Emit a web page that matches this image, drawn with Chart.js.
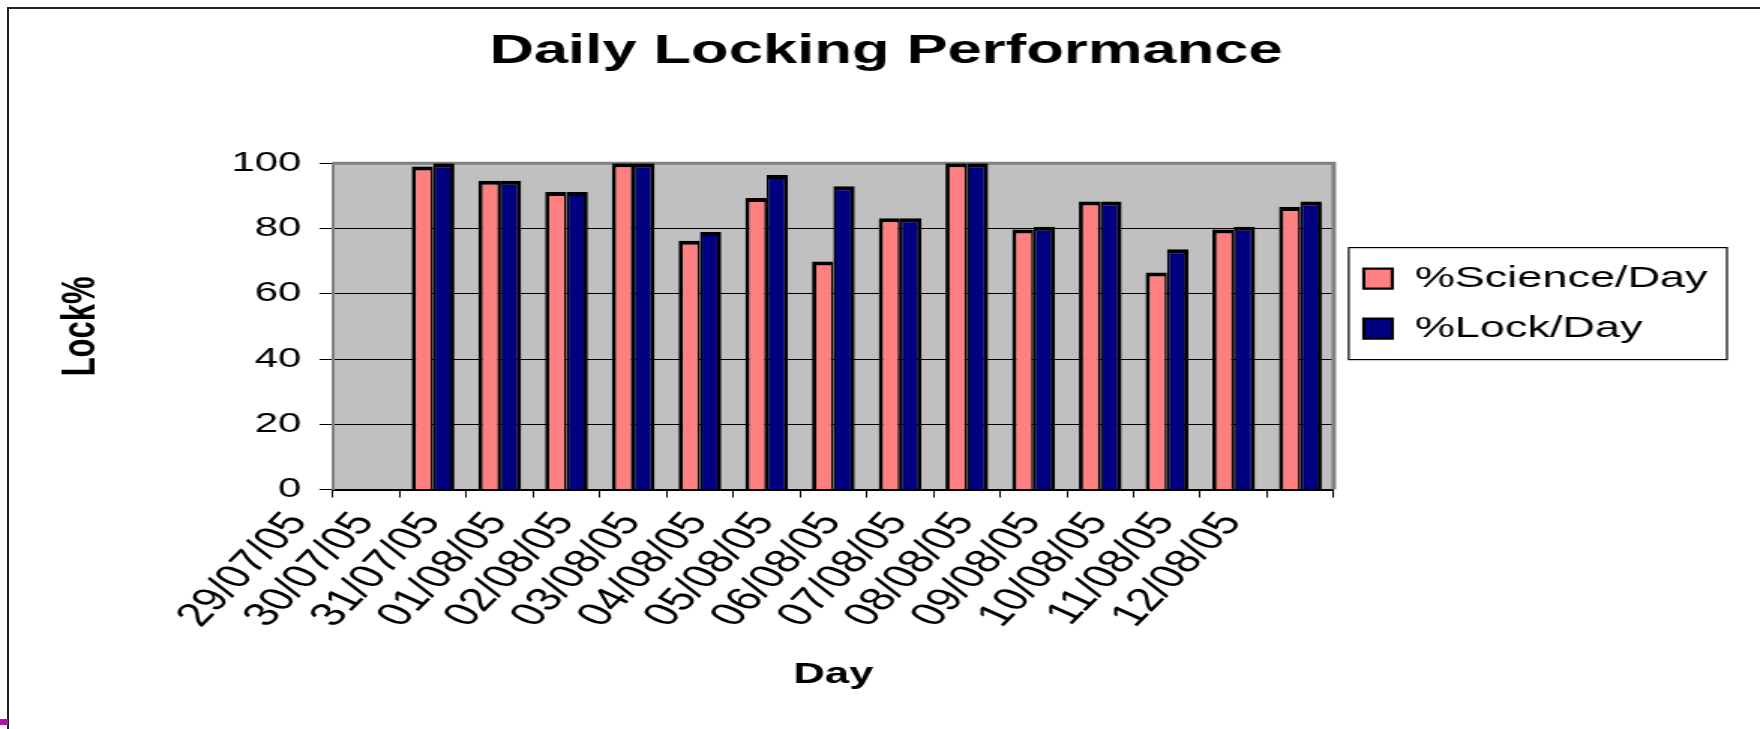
<!DOCTYPE html>
<html>
<head>
<meta charset="utf-8">
<title>Daily Locking Performance</title>
<script src="https://cdn.jsdelivr.net/npm/chart.js@4"></script>
<style>
  html, body { margin: 0; padding: 0; background: #fff; }
  #wrap { position: relative; width: 1760px; height: 729px; overflow: hidden; }
  #frame { position: absolute; left: 7px; top: 7px; right: 0; bottom: 0; border-top: 2px solid #222; border-left: 2px solid #222; }
  #mark { position: absolute; left: 0; top: 719px; width: 8px; height: 6px; background: #b010b0; }
  #daily { position: absolute; left: 0; top: 0; }
</style>
</head>
<body>
<div id="wrap">
  <div id="frame"></div>
  <div id="mark"></div>
  <!-- the original is an old Excel picture stretched sideways, so draw narrow and stretch the canvas -->
  <canvas id="daily" width="1173" height="729" style="width:1760px;height:729px"></canvas>
</div>
<script>
const days = ['29/07/05', '30/07/05', '31/07/05', '01/08/05', '02/08/05', '03/08/05', '04/08/05', '05/08/05',
              '06/08/05', '07/08/05', '08/08/05', '09/08/05', '10/08/05', '11/08/05', '12/08/05'];
const sciencePct = [null, 99, 94.6, 91.2, 100, 76.2, 89.3, 69.9, 83.1, 100, 79.7, 88.3, 66.5, 79.7, 86.6];
const lockPct    = [null, 100, 94.6, 91.2, 100, 78.9, 96.4, 92.9, 83.1, 100, 80.5, 88.3, 73.6, 80.5, 88.3];
const yTicks = [0, 20, 40, 60, 80, 100];

const FONT = "'Liberation Sans', Arial, sans-serif";

// grey plot area with its darker frame
const plotArea = {
  id: 'plotArea',
  beforeDraw(chart) {
    const { ctx, chartArea: a } = chart;
    ctx.save();
    ctx.fillStyle = '#c0c0c0';
    ctx.fillRect(a.left, a.top, a.width, a.height);
    ctx.restore();
  },
  beforeDatasetsDraw(chart) {
    const { ctx, chartArea: a } = chart;
    ctx.save();
    ctx.strokeStyle = '#808080';
    ctx.lineWidth = 3;
    ctx.beginPath();
    ctx.moveTo(a.left, a.top);
    ctx.lineTo(a.right, a.top);
    ctx.lineTo(a.right, a.bottom);
    ctx.stroke();
    ctx.restore();
  }
};

// box round the legend
const legendFrame = {
  id: 'legendFrame',
  afterDraw(chart) {
    const hb = chart.legend.legendHitBoxes;
    if (!hb || !hb.length) return;
    const left = Math.min(...hb.map(b => b.left)) - 10;
    const right = Math.max(...hb.map(b => b.left + b.width)) + 13;
    const top = hb[0].top - 16;
    const last = hb[hb.length - 1];
    const bottom = last.top + last.height + 16;
    const ctx = chart.ctx;
    ctx.save();
    ctx.strokeStyle = '#000';
    ctx.lineWidth = 1.2;
    ctx.strokeRect(left, top, right - left, bottom - top);
    ctx.restore();
  }
};

const data = {
  labels: days,
  datasets: [
    {
      label: '%Science/Day',
      data: sciencePct,
      backgroundColor: '#ff8080',
      borderColor: '#000',
      borderWidth: { top: 4, left: 2.8, right: 1.6, bottom: 0 }
    },
    {
      label: '%Lock/Day',
      data: lockPct,
      backgroundColor: '#000080',
      borderColor: '#000',
      borderWidth: { top: 4, left: 1.6, right: 2.8, bottom: 0 }
    }
  ]
};

const config = {
  type: 'bar',
  data: data,
  plugins: [plotArea, legendFrame],
  options: {
    responsive: false,
    animation: false,
    layout: { padding: { left: 33, right: 25, top: 0, bottom: 0 } },
    datasets: { bar: { categoryPercentage: 0.64, barPercentage: 1.0 } },
    plugins: {
      title: {
        display: true,
        text: 'Daily Locking Performance',
        color: '#000',
        font: { family: FONT, size: 41, weight: 'bold' },
        padding: { top: 27, bottom: 87 }
      },
      legend: {
        position: 'right',
        fullSize: false,
        align: 'start',
        title: { display: true, text: '', padding: 33 },
        labels: {
          color: '#000',
          font: { family: FONT, size: 30 },
          boxWidth: 19,
          boxHeight: 20,
          padding: 20
        }
      },
      tooltip: { enabled: false }
    },
    scales: {
      x: {
        ticks: {
          color: '#000',
          font: { family: FONT, size: 33 },
          minRotation: 56,
          maxRotation: 56,
          labelOffset: -46,
          padding: 8,
          autoSkip: false
        },
        grid: { drawOnChartArea: false, tickLength: 8, color: '#000' },
        border: { color: '#000', width: 2 },
        title: {
          display: true,
          text: 'Day',
          color: '#000',
          font: { family: FONT, size: 29, weight: 'bold' },
          padding: { top: 15, bottom: 37 }
        }
      },
      y: {
        min: 0,
        max: 100,
        afterBuildTicks(scale) { scale.ticks = yTicks.map(v => ({ value: v })); },
        ticks: { color: '#000', font: { family: FONT, size: 28 }, padding: 12 },
        grid: { color: '#000', lineWidth: 1, tickLength: 9, tickColor: '#000' },
        border: { color: '#808080', width: 2 },
        title: {
          display: true,
          text: 'Lock%',
          color: '#000',
          font: { family: FONT, size: 31, weight: 'bold' },
          padding: { top: 3, bottom: 69 }
        }
      }
    }
  }
};

const dailyChart = new Chart(document.getElementById('daily'), config);
</script>
</body>
</html>
